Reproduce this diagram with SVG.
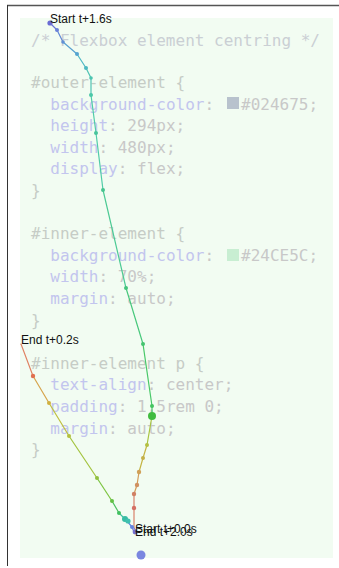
<svg xmlns="http://www.w3.org/2000/svg" width="339" height="568" viewBox="0 0 339 568">
<style>
.code{font-family:"DejaVu Sans Mono","Liberation Mono",monospace;font-size:16px;}
.sel{fill:#c6ccc6}
.prop{fill:#c2c5ee}
.val{fill:#c8c8c8}
.com{fill:#cacfd4}
.lbl{font-family:"Liberation Sans",Arial,sans-serif;font-size:12px;fill:#111}
.seg{fill:none;stroke-width:1.2;stroke-linecap:round}
</style>
<rect width="339" height="568" fill="#ffffff"/>
<line x1="7" y1="5.5" x2="339" y2="5.5" stroke="#555" stroke-width="1.5"/>
<line x1="7.5" y1="5" x2="7.5" y2="566" stroke="#333" stroke-width="1"/>
<rect x="20" y="18" width="313" height="540" fill="#f2fcf2"/>
<g id="code" class="code">
<text x="31" y="46" class="com">/* Flexbox element centring */</text>
<text x="31" y="88" class="sel">#outer-element {</text>
<text x="50.3" y="109.6"><tspan class="prop">background-color</tspan><tspan class="val">:</tspan></text>
<rect x="227" y="97" width="12" height="12" fill="#b8c2cd"/>
<text x="241" y="109.6" class="val">#024675;</text>
<text x="50.3" y="131.2"><tspan class="prop">height</tspan><tspan class="val">: 294px;</tspan></text>
<text x="50.3" y="152.8"><tspan class="prop">width</tspan><tspan class="val">: 480px;</tspan></text>
<text x="50.3" y="174.4"><tspan class="prop">display</tspan><tspan class="val">: flex;</tspan></text>
<text x="31" y="196" class="sel">}</text>
<text x="31" y="239.2" class="sel">#inner-element {</text>
<text x="50.3" y="260.8"><tspan class="prop">background-color</tspan><tspan class="val">:</tspan></text>
<rect x="227" y="249" width="12" height="12" fill="#c8eed2"/>
<text x="241" y="260.8" class="val">#24CE5C;</text>
<text x="50.3" y="282.4"><tspan class="prop">width</tspan><tspan class="val">: 70%;</tspan></text>
<text x="50.3" y="304"><tspan class="prop">margin</tspan><tspan class="val">: auto;</tspan></text>
<text x="31" y="325.6" class="sel">}</text>
<text x="31" y="368.8" class="sel">#inner-element p {</text>
<text x="50.3" y="390.4"><tspan class="prop">text-align</tspan><tspan class="val">: center;</tspan></text>
<text x="50.3" y="412"><tspan class="prop">padding</tspan><tspan class="val">: 1.5rem 0;</tspan></text>
<text x="50.3" y="433.6"><tspan class="prop">margin</tspan><tspan class="val">: auto;</tspan></text>
<text x="31" y="455.2" class="sel">}</text>
</g>
<g id="connectors">
<path class="seg" stroke="#6a74d8" d="M50,23 L57,30"/>
<path class="seg" stroke="#6288d6" d="M57,30 L63,42"/>
<path class="seg" stroke="#58a0d0" d="M63,42 L77,54"/>
<path class="seg" stroke="#50b8c4" d="M77,54 L86,68"/>
<path class="seg" stroke="#50c4b4" d="M86,68 L91,78 L91,95"/>
<path class="seg" stroke="#50cca8" d="M91,95 L96,133 L103,190"/>
<path class="seg" stroke="#4cca94" d="M103,190 L126,288"/>
<path class="seg" stroke="#48c87c" d="M126,288 L143,344"/>
<path class="seg" stroke="#48c868" d="M143,344 L152,406 L152,416"/>
<path class="seg" stroke="#a8c440" d="M152,416 L147,445"/>
<path class="seg" stroke="#c4b444" d="M147,445 L143,458 L139,472"/>
<path class="seg" stroke="#d49c58" d="M139,472 L137,485 L134,494"/>
<path class="seg" stroke="#d8806a" d="M134,494 L134,508 L134,528"/>
<path class="seg" stroke="#7a7ad8" d="M134,528 L136,531"/>
<path class="seg" stroke="#e08060" d="M21,344 L33,376"/>
<path class="seg" stroke="#d6a44c" d="M33,376 L49,403"/>
<path class="seg" stroke="#c0c040" d="M49,403 L69,436"/>
<path class="seg" stroke="#a4c440" d="M69,436 L97,478"/>
<path class="seg" stroke="#7cc440" d="M97,478 L112,501"/>
<path class="seg" stroke="#4cc060" d="M112,501 L119,513"/>
<path class="seg" stroke="#40c0a0" d="M119,513 L125,519 L127,521"/>
<path class="seg" stroke="#6484e0" d="M127,521 L132,527"/>
<path class="seg" stroke="#7070d0" d="M132,527 L134,532"/>
</g>
<g id="points">
<circle cx="50" cy="23" r="2.6" fill="#6a6cd4"/>
<circle cx="57" cy="30" r="2" fill="#6a80d8"/>
<circle cx="63" cy="42" r="1.8" fill="#6290d4"/>
<circle cx="77" cy="54" r="2" fill="#56a4d0"/>
<circle cx="86" cy="68" r="2" fill="#4cb8c0"/>
<circle cx="91" cy="78" r="1.8" fill="#4cc4b0"/>
<circle cx="91" cy="95" r="2" fill="#4cc8a8"/>
<circle cx="96" cy="133" r="2" fill="#48c49c"/>
<circle cx="103" cy="190" r="2" fill="#48c490"/>
<circle cx="126" cy="288" r="2" fill="#44c47c"/>
<circle cx="143" cy="344" r="2" fill="#44c470"/>
<circle cx="152" cy="406" r="2" fill="#44c460"/>
<circle cx="152" cy="416" r="4" fill="#40bc40"/>
<circle cx="147" cy="445" r="2" fill="#b4c040"/>
<circle cx="143" cy="458" r="2" fill="#c4b048"/>
<circle cx="139" cy="472" r="2.2" fill="#d0a058"/>
<circle cx="137" cy="485" r="2.2" fill="#d09060"/>
<circle cx="134" cy="494" r="2.2" fill="#d08064"/>
<circle cx="134" cy="508" r="2.2" fill="#d47064"/>
<circle cx="33" cy="376" r="2.2" fill="#e07050"/>
<circle cx="49" cy="403" r="2" fill="#d0b040"/>
<circle cx="69" cy="436" r="2" fill="#b4c040"/>
<circle cx="97" cy="478" r="2" fill="#90c040"/>
<circle cx="112" cy="501" r="2" fill="#64c044"/>
<circle cx="119" cy="513" r="2" fill="#40c060"/>
<circle cx="125" cy="519" r="3" fill="#38bca4"/>
<circle cx="128" cy="521" r="2.6" fill="#40c0b0"/>
<circle cx="132" cy="527" r="2" fill="#6484e0"/>
<circle cx="135" cy="532" r="2.4" fill="#7470d0"/>
<circle cx="141" cy="555" r="4.5" fill="#7a86e0"/>
</g>
<g id="labels" class="lbl">
<text x="50" y="23">Start t+1.6s</text>
<text x="21" y="344">End t+0.2s</text>
<text x="135" y="533">Start t+0.0s</text>
<text x="135" y="536">End t+2.0s</text>
</g>
</svg>
